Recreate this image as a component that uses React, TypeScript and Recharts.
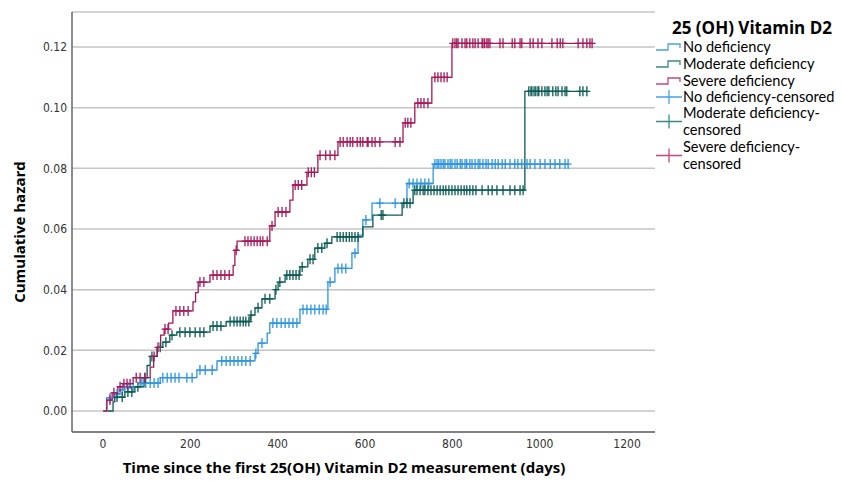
import { ComposedChart, Line, Scatter, XAxis, YAxis, CartesianGrid } from "recharts";

// step points (day of event, cumulative hazard after the step)
const noDefDays = [4, 8, 27, 39, 50, 85, 131, 215, 261, 348, 355, 376, 382, 451, 515, 531, 570, 584, 595, 616, 696, 756];
const noDefHz = [0, 0.0043, 0.0056, 0.007, 0.008, 0.0092, 0.011, 0.0135, 0.0165, 0.019, 0.0224, 0.0257, 0.029, 0.0335, 0.0425, 0.047, 0.052, 0.058, 0.063, 0.0685, 0.075, 0.0814];

const modDays = [11, 23, 27, 50, 73, 94, 101, 108, 124, 137, 153, 169, 245, 282, 337, 348, 364, 394, 401, 417, 451, 469, 485, 508, 524, 595, 618, 685, 710, 966];
const modHz = [0, 0.003, 0.0046, 0.0063, 0.008, 0.011, 0.015, 0.018, 0.021, 0.0227, 0.025, 0.026, 0.028, 0.0295, 0.0316, 0.034, 0.037, 0.04, 0.0425, 0.0448, 0.0475, 0.05, 0.0537, 0.0553, 0.0574, 0.0607, 0.0646, 0.0685, 0.0728, 0.1054];

const sevDays = [0, 9, 21, 34, 46, 69, 108, 116, 124, 132, 140, 150, 160, 206, 212, 218, 245, 298, 302, 307, 382, 394, 428, 435, 467, 492, 538, 687, 714, 753, 799];
const sevHz = [0, 0.0036, 0.006, 0.008, 0.009, 0.011, 0.0145, 0.018, 0.021, 0.025, 0.027, 0.029, 0.033, 0.036, 0.039, 0.0425, 0.0448, 0.048, 0.053, 0.056, 0.061, 0.0656, 0.0695, 0.0745, 0.0787, 0.0843, 0.0887, 0.095, 0.1015, 0.11, 0.1212];

// censored times (days)
const noDefCens = [16, 32, 44, 57, 69, 89, 98, 108, 117, 126, 137, 147, 156, 165, 174, 192, 204, 222, 234, 250, 272, 282, 291, 300, 309, 318, 327, 337, 350, 364, 389, 398, 408, 417, 426, 435, 444, 458, 467, 476, 485, 495, 504, 511, 520, 538, 547, 556, 577, 602, 634, 669, 701, 710, 719, 728, 737, 746, 760, 765, 769, 774, 779, 783, 790, 795, 799, 806, 811, 818, 822, 829, 833, 840, 845, 852, 859, 863, 870, 877, 882, 891, 898, 905, 914, 921, 932, 943, 950, 959, 971, 978, 989, 1001, 1012, 1024, 1035, 1046, 1058, 1065];
const modCens = [32, 44, 57, 66, 80, 96, 112, 131, 144, 158, 176, 188, 199, 211, 222, 231, 252, 261, 270, 291, 300, 307, 314, 321, 327, 334, 339, 355, 371, 382, 396, 405, 421, 428, 435, 442, 449, 456, 474, 481, 492, 501, 513, 536, 543, 550, 557, 564, 570, 577, 584, 637, 641, 689, 696, 703, 714, 719, 726, 733, 737, 744, 751, 758, 765, 772, 779, 785, 792, 799, 806, 813, 820, 827, 833, 840, 847, 854, 868, 882, 891, 902, 916, 932, 943, 955, 962, 975, 980, 982, 987, 991, 996, 998, 1005, 1012, 1017, 1021, 1030, 1037, 1042, 1051, 1058, 1062, 1092, 1099, 1108];
const sevCens = [16, 25, 39, 48, 55, 62, 76, 85, 96, 117, 126, 142, 149, 167, 176, 185, 195, 222, 231, 252, 261, 270, 279, 289, 305, 325, 332, 339, 346, 353, 360, 366, 376, 387, 401, 410, 419, 440, 447, 455, 470, 477, 484, 497, 510, 520, 531, 543, 550, 559, 566, 572, 582, 589, 595, 605, 607, 616, 623, 634, 669, 680, 692, 698, 705, 721, 728, 735, 744, 760, 767, 774, 781, 788, 801, 806, 810, 813, 822, 829, 833, 840, 847, 852, 859, 868, 870, 874, 879, 882, 886, 909, 916, 937, 943, 955, 959, 978, 985, 996, 1005, 1028, 1040, 1047, 1053, 1088, 1099, 1108, 1115, 1120];

const xTicks = [0, 200, 400, 600, 800, 1000, 1200];
const yTicks = [0, 0.02, 0.04, 0.06, 0.08, 0.1, 0.12];

const BLUE = "#2C95DE";
const TEAL = "#0B5B55";
const CRIMSON = "#A5195B";

const levelAt = (days: number[], hz: number[], t: number) => {
  let v = 0;
  for (let i = 0; i < days.length; i++) if (days[i] <= t) v = hz[i];
  return v;
};

const stepData = (days: number[], hz: number[], cens: number[]) => {
  const pts = days.map((d, i) => ({ day: d, hz: hz[i] }));
  pts.push({ day: cens[cens.length - 1], hz: hz[hz.length - 1] });
  return pts;
};

const censData = (days: number[], hz: number[], cens: number[]) =>
  cens.map((t) => ({ day: t, hz: levelAt(days, hz, t) }));

const plus = (color: string) => (props: any) => {
  const { cx, cy } = props;
  return (
    <path
      d={`M${cx - 3.5},${cy}H${cx + 3.5}M${cx},${cy - 5}V${cy + 5}`}
      stroke={color}
      strokeWidth={1.3}
      fill="none"
    />
  );
};

const tickFont = { fontFamily: "'DejaVu Sans Condensed', 'Liberation Sans Narrow', sans-serif", fontSize: 12, fill: "#333" };
const titleFont = "'Open Sans', 'DejaVu Sans', sans-serif";
const legendFont = "Lato, 'Open Sans', sans-serif";

const legendItems = [
  { kind: "step", color: "#45A3E6", lines: ["No deficiency"], y: 47 },
  { kind: "step", color: "#3A8A82", lines: ["Moderate deficiency"], y: 64 },
  { kind: "step", color: "#C04A7C", lines: ["Severe deficiency"], y: 81 },
  { kind: "plus", color: "#45A3E6", lines: ["No deficiency-censored"], y: 97 },
  { kind: "plus", color: "#3A8A82", lines: ["Moderate deficiency-", "censored"], y: 113 },
  { kind: "plus", color: "#C04A7C", lines: ["Severe deficiency-", "censored"], y: 147 },
];

const Overlay = () => (
  <svg width={841} height={481} style={{ position: "absolute", left: 0, top: 0, pointerEvents: "none" }}>
    <text x={672} y={34} fontFamily={titleFont} fontWeight={700} fontSize={17} fill="#000">
      25 (OH) Vitamin D2
    </text>
    {legendItems.map((it) => {
      const cy = it.lines.length > 1 ? it.y + 8.5 : it.y;
      const icon =
        it.kind === "step"
          ? `M656,${cy + 3}H668V${cy - 3}H680V${cy + 1}`
          : `M656,${cy}H682M669,${cy - 7}V${cy + 7}`;
      return (
        <g key={it.lines[0]}>
          <path d={icon} stroke={it.color} strokeWidth={1.3} fill="none" />
          {it.lines.map((l, k) => (
            <text key={l} x={683} y={it.y + 5 + k * 17} fontFamily={legendFont} fontSize={14.6} fill="#000">
              {l}
            </text>
          ))}
        </g>
      );
    })}
    <text x={344} y={473} textAnchor="middle" fontFamily={titleFont} fontWeight={700} fontSize={15} fill="#000">
      Time since the first 25(OH) Vitamin D2 measurement (days)
    </text>
    <text
      x={25}
      y={232}
      transform="rotate(-90 25 232)"
      textAnchor="middle"
      fontFamily={titleFont}
      fontWeight={700}
      fontSize={15}
      fill="#000"
    >
      Cumulative hazard
    </text>
  </svg>
);

export default function App() {
  return (
    <div style={{ position: "absolute", left: 0, top: 0, width: 841, height: 481, overflow: "hidden", background: "#fff" }}>
      <ComposedChart width={841} height={481} margin={{ top: 12, right: 186, bottom: 0, left: 0 }}>
        <CartesianGrid vertical={false} stroke="#c4c4c4" strokeWidth={1.5} />
        <XAxis
          type="number"
          dataKey="day"
          domain={[-71, 1264]}
          ticks={xTicks}
          allowDataOverflow
          height={49}
          tickSize={0}
          tickMargin={7}
          tick={tickFont}
          axisLine={{ stroke: "#666", strokeWidth: 1.5 }}
        />
        <YAxis
          type="number"
          dataKey="hz"
          domain={[-0.00692, 0.13154]}
          ticks={yTicks}
          allowDataOverflow
          width={72}
          tickSize={0}
          tickMargin={5}
          tick={tickFont}
          tickFormatter={(v: number) => v.toFixed(2)}
          axisLine={{ stroke: "#666", strokeWidth: 1.5 }}
        />
        <Line data={stepData(noDefDays, noDefHz, noDefCens)} dataKey="hz" type="stepAfter" stroke={BLUE} strokeWidth={1.3} dot={false} isAnimationActive={false} />
        <Line data={stepData(modDays, modHz, modCens)} dataKey="hz" type="stepAfter" stroke={TEAL} strokeWidth={1.3} dot={false} isAnimationActive={false} />
        <Line data={stepData(sevDays, sevHz, sevCens)} dataKey="hz" type="stepAfter" stroke={CRIMSON} strokeWidth={1.3} dot={false} isAnimationActive={false} />
        <Scatter data={censData(noDefDays, noDefHz, noDefCens)} dataKey="hz" shape={plus(BLUE)} isAnimationActive={false} />
        <Scatter data={censData(modDays, modHz, modCens)} dataKey="hz" shape={plus(TEAL)} isAnimationActive={false} />
        <Scatter data={censData(sevDays, sevHz, sevCens)} dataKey="hz" shape={plus(CRIMSON)} isAnimationActive={false} />
      </ComposedChart>
      <Overlay />
    </div>
  );
}
